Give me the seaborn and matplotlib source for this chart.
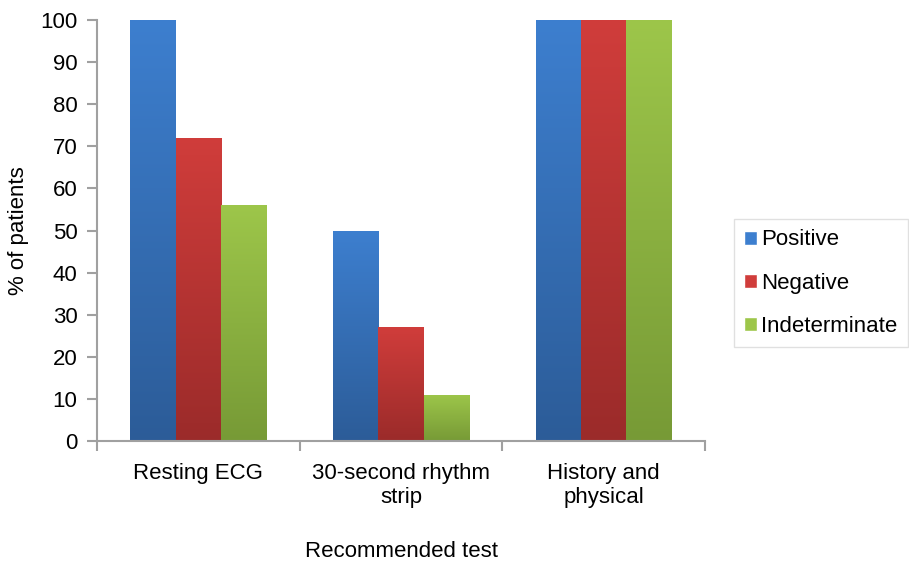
import numpy as np
import pandas as pd
import matplotlib
matplotlib.use("Agg")
import matplotlib.pyplot as plt
import seaborn as sns
from matplotlib.colors import LinearSegmentedColormap

tests = ["Resting ECG", "30-second rhythm\nstrip", "History and\nphysical"]
results = ["Positive", "Negative", "Indeterminate"]
positive = [100, 50, 100]
negative = [72, 27, 100]
indeterminate = [56, 11, 100]

top_colors = {"Positive": "#3d7fcf", "Negative": "#d03d3b", "Indeterminate": "#9dc64a"}
bottom_colors = {"Positive": "#2c5c98", "Negative": "#9b2b2a", "Indeterminate": "#779a36"}

df = pd.DataFrame({
    "test": tests * 3,
    "result": [r for r in results for _ in tests],
    "pct": positive + negative + indeterminate,
})

sns.set_style("white")
plt.rcParams["font.family"] = ["Liberation Sans", "DejaVu Sans"]
plt.rcParams["text.color"] = "black"
plt.rcParams["axes.labelcolor"] = "black"
plt.rcParams["xtick.color"] = "black"
plt.rcParams["ytick.color"] = "black"

fig = plt.figure(figsize=(9.09, 5.64), dpi=100)
ax = fig.add_axes([0.1067, 0.218, 0.669, 0.7465])

sns.barplot(data=df, x="test", y="pct", hue="result", hue_order=results,
            palette=top_colors, width=0.67, gap=0, saturation=1, ax=ax)

# vertical gradient inside every bar (lighter at top)
grad = np.linspace(0, 1, 256).reshape(-1, 1)
for container, res in zip(ax.containers, results):
    cmap = LinearSegmentedColormap.from_list(res, [bottom_colors[res], top_colors[res]])
    for bar in container:
        x0, y0 = bar.get_x(), bar.get_y()
        w, h = bar.get_width(), bar.get_height()
        im = ax.imshow(grad, extent=[x0, x0 + w, y0, y0 + h], origin="lower",
                       cmap=cmap, aspect="auto", zorder=bar.get_zorder() + 0.1)
        im.set_clip_path(bar)

axis_gray = "#a0a0a0"
ax.set_xlim(-0.5, 2.5)
ax.set_ylim(0, 100)
ax.set_yticks(range(0, 101, 10))
ax.set_xticks([-0.5, 0.5, 1.5, 2.5], minor=True)
ax.tick_params(axis="x", which="major", bottom=False, labelsize=16, pad=12)
ax.tick_params(axis="x", which="minor", bottom=True, length=7, color=axis_gray, width=1.5)
ax.tick_params(axis="y", left=True, length=7, color=axis_gray, width=1.5,
               labelsize=16, pad=7)
for s in ["top", "right"]:
    ax.spines[s].set_visible(False)
for s in ["left", "bottom"]:
    ax.spines[s].set_color(axis_gray)
    ax.spines[s].set_linewidth(1.5)

ax.set_xlabel("Recommended test", fontsize=16, labelpad=24)
ax.set_ylabel("% of patients", fontsize=16, labelpad=8)

handles, labels = ax.get_legend_handles_labels()
leg = ax.legend(handles, labels, loc="center left", bbox_to_anchor=(1.047, 0.375),
                fontsize=16, frameon=True, fancybox=False, edgecolor="#d9d9d9",
                handlelength=0.6, handleheight=0.6, handletextpad=0.2,
                labelspacing=1.0, borderpad=0.45, borderaxespad=0)

fig.savefig("out.png", dpi=100)
